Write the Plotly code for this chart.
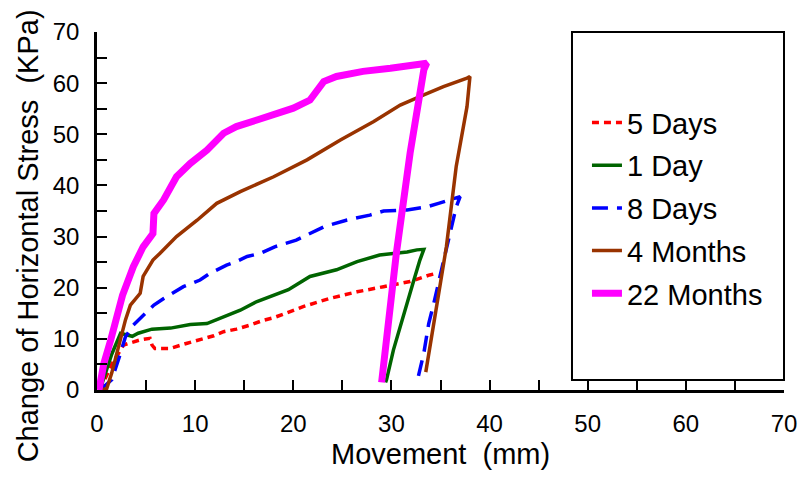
import plotly.graph_objects as go

# ---- data ----
d5_x = [0.3, 1.5, 2.7, 4.4, 5.4, 5.6, 5.9, 7.4, 9.1, 10.5, 11.9, 12.9, 14.2, 15.6, 16.9,
        18.1, 19.3, 21.0, 23.7, 26.5, 29.2, 31.9, 33.9, 34.6]
d5_y = [0, 5.0, 8.8, 9.8, 10.1, 8.8, 8.1, 8.1, 9.1, 9.8, 10.6, 11.4, 11.9, 12.7, 13.6,
        14.2, 15.0, 16.3, 17.9, 19.2, 20.2, 21.2, 22.5, 22.8]

d1_x = [0.3, 1.5, 2.4, 3.6, 4.2, 5.6, 7.5, 9.5, 11.2, 12.9, 14.6, 16.3, 18.0, 19.5, 21.7,
        24.4, 26.5, 28.8, 31.6, 32.6, 33.3, 32.9, 32.2, 31.6, 30.9, 30.2, 29.5, 29.4]
d1_y = [0, 7.0, 11.1, 10.5, 11.1, 11.9, 12.1, 12.8, 13.0, 14.3, 15.6, 17.3, 18.6, 19.6, 22.2,
        23.5, 25.1, 26.4, 27.0, 27.4, 27.5, 25.4, 20.9, 17.0, 12.4, 7.8, 2.0, 1.5]

d8_x = [0.3, 1.5, 2.4, 2.9, 3.7, 4.8, 5.8, 6.8, 8.8, 10.5, 11.5, 13.2, 14.2, 15.3, 16.6,
        18.1, 20.3, 23.1, 25.4, 27.8, 29.2, 31.6, 33.6, 34.8, 37.0, 36.6, 36.1, 35.1, 34.4,
        33.8, 33.3, 32.6]
d8_y = [0, 2.0, 7.2, 10.4, 12.7, 14.7, 16.6, 17.9, 20.2, 21.5, 22.8, 24.4, 25.1, 26.1, 26.7,
        28.0, 29.3, 31.9, 33.2, 34.2, 35.0, 35.2, 35.8, 36.5, 37.8, 35.8, 31.9, 23.5, 17.6,
        13.0, 7.2, 1.5]

m4_x = [0.5, 1.0, 1.5, 2.0, 2.5, 2.9, 3.4, 4.4, 4.7, 5.7, 6.4, 8.1, 10.2, 12.2, 14.6, 18.0,
        21.4, 24.8, 28.2, 30.9, 33.3, 35.3, 37.7, 38.0, 37.7, 36.6, 35.6, 34.6, 33.6, 33.5]
m4_y = [0, 0.3, 3.3, 7.2, 10.4, 13.7, 16.6, 18.9, 22.2, 25.4, 26.7, 30.0, 33.2, 36.5, 38.8, 41.7,
        45.0, 48.9, 52.5, 55.7, 57.7, 59.3, 61.0, 61.3, 55.4, 43.7, 28.0, 16.3, 3.9, 3.5]

m22_x = [0.2, 0.7, 1.4, 2.0, 2.6, 3.7, 4.7, 5.7, 5.8, 6.8, 8.1, 9.5, 11.2, 12.9, 14.2, 16.3,
         18.3, 20.0, 21.7, 23.1, 24.4, 27.1, 29.9, 31.9, 33.6, 33.3, 31.9, 30.5, 29.0]
m22_y = [0, 5.2, 9.8, 13.7, 18.5, 24.1, 28.0, 30.6, 34.5, 37.2, 41.7, 44.3, 46.9, 50.2, 51.5, 52.8,
         54.1, 55.1, 56.7, 60.3, 61.3, 62.3, 62.9, 63.6, 63.9, 62.6, 46.3, 26.7, 1.5]

series_names = ["5 Days", "1 Day", "8 Days", "4 Months", "22 Months"]
x_ticks = [0, 10, 20, 30, 40, 50, 60, 70]
y_ticks = [0, 10, 20, 30, 40, 50, 60, 70]

FONT = "Arial, 'Liberation Sans', sans-serif"

styles = [
    dict(color="#FF0000", width=3.5, dash="7px,5px"),
    dict(color="#006400", width=3.5, dash="solid"),
    dict(color="#0000FF", width=3.5, dash="16px,9px"),
    dict(color="#993300", width=3.5, dash="solid"),
    dict(color="#FF00FF", width=7, dash="solid"),
]
data = [(d5_x, d5_y), (d1_x, d1_y), (d8_x, d8_y), (m4_x, m4_y), (m22_x, m22_y)]

fig = go.Figure()
for name, (xs, ys), st in zip(series_names, data, styles):
    fig.add_trace(go.Scatter(x=xs, y=ys, mode="lines", name=name, line=st,
                             legendgroup=name))

axis_common = dict(
    range=[0, 70], showgrid=False, zeroline=False, automargin=False,
    showline=True, linecolor="black", linewidth=2.5,
    ticks="inside", ticklen=10, tickwidth=2, tickcolor="black",
    tickfont=dict(family=FONT, size=24, color="black"),
    minor=dict(dtick=5, ticks="inside", ticklen=10, tickwidth=2, tickcolor="black"),
    ticklabelstandoff=10,
)
fig.update_xaxes(tickvals=x_ticks, ticktext=[str(v) for v in x_ticks], **axis_common)
fig.update_yaxes(tickvals=y_ticks, ticktext=[str(v) for v in y_ticks], **axis_common)

# legend box
fig.add_shape(type="rect", xref="paper", yref="paper", x0=0.6914, x1=1.0, y0=0.028, y1=1.0,
              line=dict(color="black", width=2), fillcolor="rgba(0,0,0,0)", layer="above")

fig.add_annotation(text="Movement  (mm)", xref="paper", yref="paper", x=0.5, y=-0.18,
                   xanchor="center", yanchor="middle", showarrow=False,
                   font=dict(family=FONT, size=29, color="black"))
fig.add_annotation(text="Change of Horizontal Stress  (KPa)", xref="paper", yref="paper",
                   x=-0.1, y=0.43, xanchor="center", yanchor="middle", textangle=-90,
                   showarrow=False, font=dict(family=FONT, size=29, color="black"))

fig.update_layout(
    width=803, height=477,
    margin=dict(l=97, r=19, t=32, b=87, autoexpand=False),
    paper_bgcolor="white", plot_bgcolor="white",
    showlegend=True,
    legend=dict(x=0.7132, y=0.508, xanchor="left", yanchor="middle",
                bgcolor="rgba(0,0,0,0)", borderwidth=0,
                font=dict(family=FONT, size=29, color="black"),
                traceorder="grouped", tracegroupgap=2),
)

fig.write_html("out.html", config={"displayModeBar": False},
               post_script="document.body.style.margin='0';document.body.style.overflow='hidden';")
